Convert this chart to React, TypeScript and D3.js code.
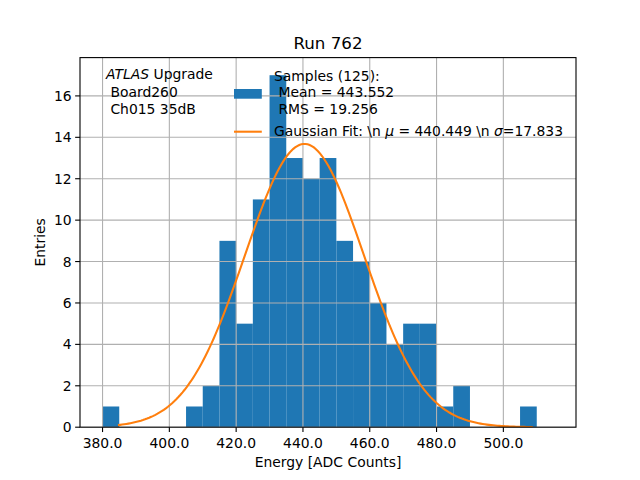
import React from "react";
import * as d3 from "d3";

const binEdgesStart = [380, 385, 390, 395, 400, 405, 410, 415, 420, 425, 430, 435, 440, 445, 450, 455, 460, 465, 470, 475, 480, 485, 490, 495, 500, 505, 510];
const binWidth = 5;
const counts = [1, 0, 0, 0, 0, 1, 2, 9, 5, 11, 17, 13, 12, 13, 9, 8, 6, 4, 5, 5, 1, 2, 0, 0, 0, 1, 0];
const xTicks = [380, 400, 420, 440, 460, 480, 500];
const yTicks = [0, 2, 4, 6, 8, 10, 12, 14, 16];
const fitMu = 440.449;
const fitSigma = 17.833;
const fitAmp = 13.68;
const fitRange = [384.6, 508.8];

const W = 640, H = 480;
const L = 80, R = 576, T = 57.6, B = 427.2;
const FONT = "DejaVu Sans, sans-serif";

export default function App() {
  const x = d3.scaleLinear().domain([373.25, 521.75]).range([L, R]);
  const y = d3.scaleLinear().domain([0, 17.85]).range([B, T]);
  const nPts = 200;
  const fitPts: [number, number][] = d3.range(nPts).map((i) => {
    const xv = fitRange[0] + (fitRange[1] - fitRange[0]) * (i / (nPts - 1));
    const yv = fitAmp * Math.exp(-((xv - fitMu) ** 2) / (2 * fitSigma * fitSigma));
    return [xv, yv];
  });
  const line = d3.line<[number, number]>().x((d) => x(d[0])).y((d) => y(d[1]));
  const fs = 13.9;
  return (
    <svg width={W} height={H} style={{ position: "absolute", left: 0, top: 0, background: "#fff" }} fontFamily={FONT}>
      <rect x={0} y={0} width={W} height={H} fill="#fff" />
      <defs>
        <clipPath id="clip">
          <rect x={L} y={T} width={R - L} height={B - T} />
        </clipPath>
      </defs>
      <g clipPath="url(#clip)">
        {binEdgesStart.map((e, i) => (
          <rect key={i} x={x(e)} y={y(counts[i])} width={x(e + binWidth) - x(e)} height={y(0) - y(counts[i])} fill="#1f77b4" />
        ))}
        {xTicks.map((t) => (
          <line key={"gx" + t} x1={x(t)} x2={x(t)} y1={T} y2={B} stroke="#b0b0b0" strokeWidth={1.1} />
        ))}
        {yTicks.map((t) => (
          <line key={"gy" + t} x1={L} x2={R} y1={y(t)} y2={y(t)} stroke="#b0b0b0" strokeWidth={1.1} />
        ))}
        <path d={line(fitPts) || ""} fill="none" stroke="#ff7f0e" strokeWidth={2.08} />
      </g>
      <rect x={L} y={T} width={R - L} height={B - T} fill="none" stroke="#000" strokeWidth={1.1} />
      {xTicks.map((t) => (
        <g key={"xt" + t}>
          <line x1={x(t)} x2={x(t)} y1={B} y2={B + 4.86} stroke="#000" strokeWidth={1.1} />
          <text x={x(t)} y={B + 21} textAnchor="middle" fontSize={fs} fill="#000">{t.toFixed(1)}</text>
        </g>
      ))}
      {yTicks.map((t) => (
        <g key={"yt" + t}>
          <line x1={L} x2={L - 4.86} y1={y(t)} y2={y(t)} stroke="#000" strokeWidth={1.1} />
          <text x={L - 8.3} y={y(t) + 5} textAnchor="end" fontSize={fs} fill="#000">{t}</text>
        </g>
      ))}
      <text x={(L + R) / 2} y={49} textAnchor="middle" fontSize={16.7} fill="#000">Run 762</text>
      <text x={(L + R) / 2} y={467} textAnchor="middle" fontSize={fs} fill="#000">Energy [ADC Counts]</text>
      <text transform={`translate(45,${(T + B) / 2}) rotate(-90)`} textAnchor="middle" fontSize={fs} fill="#000">Entries</text>
      <text x={106} y={79} fontSize={fs} fill="#000">
        <tspan fontStyle="italic">ATLAS</tspan> Upgrade
      </text>
      <text x={106} y={96.5} fontSize={fs} fill="#000" xmlSpace="preserve">{" Board260"}</text>
      <text x={106} y={113.5} fontSize={fs} fill="#000" xmlSpace="preserve">{" Ch015 35dB"}</text>
      <rect x={234} y={89} width={27.8} height={9.7} fill="#1f77b4" />
      <text x={274} y={81} fontSize={fs} fill="#000" xmlSpace="preserve">{"Samples (125):"}</text>
      <text x={274} y={97} fontSize={fs} fill="#000" xmlSpace="preserve">{" Mean = 443.552"}</text>
      <text x={274} y={113.5} fontSize={fs} fill="#000" xmlSpace="preserve">{" RMS = 19.256"}</text>
      <line x1={234} x2={261.8} y1={131.7} y2={131.7} stroke="#ff7f0e" strokeWidth={2.08} />
      <text x={274} y={136} fontSize={fs} fill="#000" xmlSpace="preserve" textLength={289} lengthAdjust="spacing">
        {"Gaussian Fit: \\n "}<tspan fontStyle="italic">μ</tspan>{" = 440.449 \\n "}<tspan fontStyle="italic">σ</tspan>{"=17.833"}
      </text>
    </svg>
  );
}
